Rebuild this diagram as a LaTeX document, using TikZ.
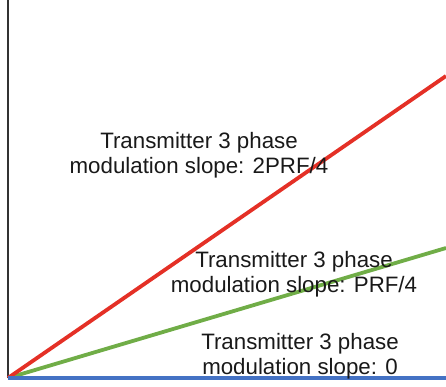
\documentclass[tikz,border=0pt]{standalone}
\usepackage{fontspec}
\setmainfont{Liberation Sans}
\definecolor{axisblue}{RGB}{68,114,196}
\definecolor{slopered}{RGB}{228,48,38}
\definecolor{slopegreen}{RGB}{112,173,71}
\tikzset{
  axisline/.style={draw=black!80, line width=1.8pt},
  baseline0/.style={draw=axisblue, line width=4pt},
  slopeline/.style={line width=3.8pt},
  lbl/.style={align=center, inner sep=0pt, font=\fontsize{22.3}{25}\selectfont, text=black!90}
}
\begin{document}
\begin{tikzpicture}[x=1pt, y=1pt]
  \useasboundingbox (0,0) rectangle (446,386);
  \coordinate (origin) at (8,8);
  \coordinate (top) at (8,386);
  \coordinate (right) at (446,8);
  \coordinate (redend) at (446,310);
  \coordinate (greenend) at (446,138);

  \draw[axisline] (origin) -- (top);
  \draw[slopeline, slopegreen] (origin) -- (greenend);
  \draw[slopeline, slopered] (origin) -- (redend);
  \draw[baseline0] (origin) -- (right);

  \node[lbl] (twoprf) at (199,231) {Transmitter 3 phase\\modulation slope: 2PRF/4};
  \node[lbl] (oneprf) at (294,112) {Transmitter 3 phase\\modulation slope: PRF/4};
  \node[lbl] (zero) at (300,30) {Transmitter 3 phase\\modulation slope: 0};
\end{tikzpicture}
\end{document}
